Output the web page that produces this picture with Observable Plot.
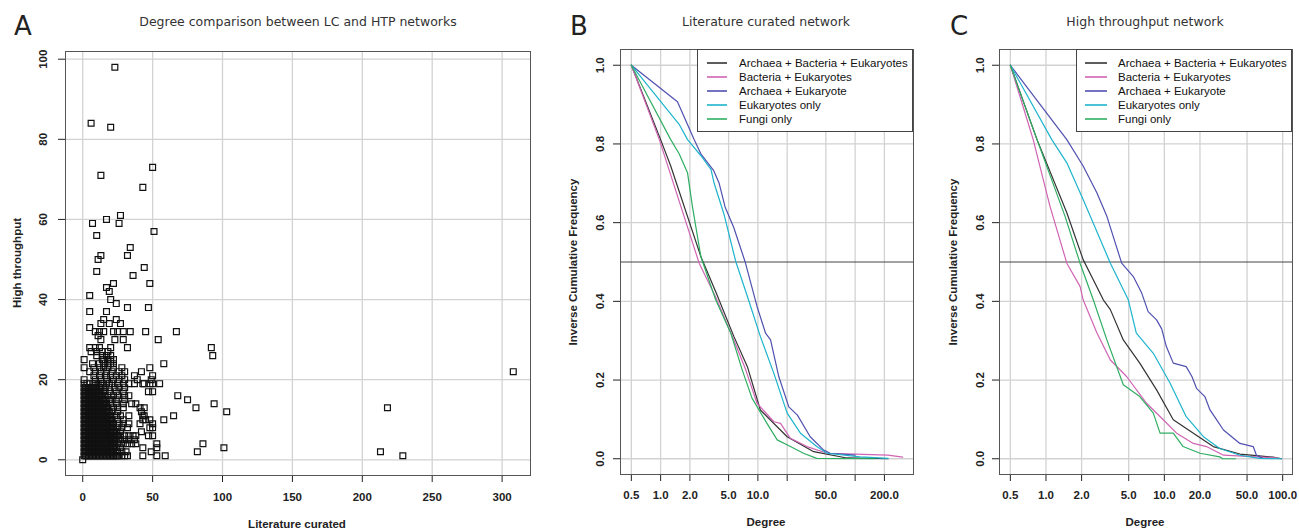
<!DOCTYPE html>
<html><head><meta charset="utf-8">
<script src="https://cdn.jsdelivr.net/npm/d3@7"></script>
<script src="https://cdn.jsdelivr.net/npm/@observablehq/plot@0.6"></script>
<style>
html,body{margin:0;padding:0;background:#fff;}
#fig{position:relative;width:1299px;height:530px;overflow:hidden;font-family:"Liberation Sans",Arial,sans-serif;}
.panel{position:absolute;top:0;}
.t{position:absolute;white-space:nowrap;}
.title{font-family:"DejaVu Sans",sans-serif;font-size:12.5px;color:#333;transform:translateX(-50%);top:14px;}
.letter{font-family:"DejaVu Sans",sans-serif;font-size:26px;color:#222;top:11px;line-height:30px;}
.xlab{font-weight:bold;font-size:11.5px;color:#222;transform:translate(-50%,-50%);}
.ylab{font-weight:bold;font-size:11.5px;color:#222;transform:translate(-50%,-50%) rotate(-90deg);}
.legend{position:absolute;border:1px solid #444;background:#fff;box-sizing:border-box;}
</style>
</head><body><div id="fig"></div>
<script>
// ---------- Panel A data: HTP degree levels and the LC degrees at each level ----------
const htpLevels = [98,84,83,73,71,68,61,60,59,57,56,53,51,50,48,47,46,44,43,42,41,40,39,38,37,35,34,33,32,31,30,28,27,26,25,24,23,22,21,20,19,18,17,16,15,14,13,12,11,10,9,8,7,6,5,4,3,2,1,0];
const lcAtLevel = [
  [23],[6],[20],[50],[13],[43],[27],[17],[7,26],[51],[10],[34],[13,32],[11],[44],[10],[36],[22,48],[17],[19],[5],[20],[24],[32,47],[5,17],[15,24],[13,19,27],[5],
  [9,12,15,22,25,29,34,45,67],
  [11],
  [13,23,29,54],
  [5,9,12,20,32,92],
  [6,10,14,18],
  [10,14,17,20,93],
  [1,14,15,18,20,22],
  [7,12,15,18,20,22,58],
  [1,8,12,15,18,22,28,48],
  [5,9,13,17,21,26,30,42,308],
  [8,12,17,20,24,28,37,50],
  [1,9,13,17,22,26,30,39,49],
  [1,3,5,8,9,11,13,14,17,19,21,25,29,33,37,43,44,48,50,55],
  [1,2,3,4,5,6,7,8,9,10,12,13,16,19,23,26,30],
  [1,2,3,4,5,6,7,8,9,10,11,12,13,15,16,19,24,29,47,50],
  [1,2,3,4,5,6,7,8,9,10,11,12,13,14,16,18,22,25,30,33,68],
  [1,2,3,4,5,6,7,8,9,10,11,12,13,14,15,16,19,21,24,30,75],
  [1,2,3,4,5,6,7,8,9,10,11,12,13,14,15,16,17,20,24,29,35,38,94],
  [1,2,3,4,5,6,7,8,9,10,11,12,13,14,15,16,17,18,22,25,29,41,44,81,218],
  [1,2,3,4,5,6,7,8,9,10,11,12,13,14,15,16,17,18,19,21,25,42,103],
  [1,2,3,4,5,6,7,8,9,10,11,12,13,14,15,16,17,18,19,20,24,27,33,43,44,65],
  [1,2,3,4,5,6,7,8,9,10,11,12,13,14,15,16,17,18,19,20,21,25,29,43,45,48,58],
  [1,2,3,4,5,6,7,8,9,10,11,12,13,14,15,16,17,18,19,20,21,22,26,29,33,41,50],
  [1,2,3,4,5,6,7,8,9,10,11,12,13,14,15,16,17,18,19,20,21,22,25,28,32,48,50],
  [1,2,3,4,5,6,7,8,9,10,11,12,13,14,15,16,17,18,19,20,21,22,24,27,42],
  [1,2,3,4,5,6,7,8,9,10,11,12,13,14,15,16,17,18,19,20,21,22,23,24,25,27,30,33,36,38,47,50],
  [1,2,3,4,5,6,7,8,9,10,11,12,13,14,15,16,17,18,19,20,21,22,23,24,27,30,33,37],
  [1,2,3,4,5,6,7,8,9,10,11,12,13,14,15,16,17,18,19,20,21,22,23,26,29,32,35,38,53,86],
  [1,2,3,4,5,6,7,8,9,10,11,12,13,14,15,16,17,18,19,20,21,22,24,27,43,53,101],
  [1,2,3,4,5,6,7,8,9,10,11,12,13,14,15,16,17,18,19,20,21,22,25,28,31,49,82,213],
  [1,2,3,4,5,6,7,8,9,10,11,12,13,14,15,16,17,18,19,20,21,22,23,24,25,26,28,30,32,43,53,59,229],
  [0]
];
const aXTicks = [0,50,100,150,200,250,300];
const aYTicks = [0,20,40,60,80,100];

// ---------- Panels B & C ----------
const seriesNames = ["Archaea + Bacteria + Eukaryotes","Bacteria + Eukaryotes","Archaea + Eukaryote","Eukaryotes only","Fungi only"];
const seriesColors = ["#333333","#d064b4","#5050b0","#1db4cc","#2fae62"];
const freqTicks = [0,0.2,0.4,0.6,0.8,1.0];
const bXTicks = [0.5,1,2,5,10,20,50,100,200];
const bXLabels = [0.5,1,2,5,10,50,200];
const cXTicks = [0.5,1,2,5,10,20,50,100];
const cXLabels = [0.5,1,2,5,10,20,50,100];

// Literature curated network (B)
const lcABE_deg  = [0.5,1.0,1.27,2.59,3.75,5.66,7.8,10.6,20,37.5,82,218];
const lcABE_freq = [1,0.811,0.744,0.514,0.42,0.311,0.234,0.124,0.056,0.018,0.002,0];
const lcBE_deg   = [0.5,0.97,2.49,3.7,5.66,7.5,9.8,14.6,17.1,21.6,32,51.5,100,218,308];
const lcBE_freq  = [1,0.811,0.497,0.41,0.302,0.226,0.141,0.094,0.09,0.052,0.031,0.014,0.012,0.009,0.004];
const lcAE_deg   = [0.5,1.49,2.21,2.59,3.5,4.0,4.6,5.66,7.36,9.8,12.0,13.5,16.4,20.8,25.5,34.5,47.5,55.5,100];
const lcAE_freq  = [1,0.907,0.811,0.775,0.733,0.7,0.64,0.587,0.502,0.387,0.319,0.302,0.209,0.132,0.111,0.056,0.022,0.014,0.009];
const lcE_deg    = [0.5,1.55,1.89,2.6,3.3,3.55,4.5,5.91,7.79,10.6,14.6,20,27.4,40.3,51.5,112,218];
const lcE_freq   = [1,0.85,0.811,0.77,0.735,0.7,0.62,0.502,0.413,0.311,0.217,0.116,0.065,0.031,0.014,0.005,0.001];
const lcF_deg    = [0.5,1.27,1.55,1.89,2.12,2.59,3.68,5.27,6.9,8.7,12.4,15.8,21.6,29.4,40.3,160];
const lcF_freq   = [1,0.811,0.775,0.727,0.642,0.514,0.404,0.319,0.226,0.154,0.09,0.048,0.031,0.014,0.001,0];

// High throughput network (C)
const htABE_deg  = [0.5,0.84,1.5,2.06,2.51,3.05,3.5,4.5,6.2,8.6,11.9,17.6,25.9,43.5,60,83,98];
const htABE_freq = [1,0.811,0.625,0.506,0.455,0.404,0.379,0.302,0.243,0.175,0.099,0.065,0.031,0.012,0.008,0.004,0];
const htBE_deg   = [0.5,0.78,1.08,1.5,1.94,2.06,2.69,3.5,4.8,7.08,9.8,12.7,17.6,22.7,31.6,60,90];
const htBE_freq  = [1,0.811,0.642,0.497,0.438,0.404,0.32,0.251,0.209,0.141,0.099,0.065,0.039,0.031,0.009,0.005,0.002];
const htAE_deg   = [0.5,1.5,2.06,2.69,3.27,4.36,5.47,6.44,7.3,8.6,9.5,10.4,11.9,15.3,17.1,18.7,22,24.3,27.7,31.6,43.5,56.4,60,68];
const htAE_freq  = [1,0.811,0.744,0.676,0.616,0.497,0.463,0.421,0.374,0.353,0.33,0.285,0.243,0.234,0.209,0.179,0.158,0.124,0.099,0.073,0.039,0.031,0.009,0.001];
const htE_deg    = [0.5,1.12,1.5,2.06,3.5,4.96,5.8,8.07,11.2,15.3,21.4,29.4,43.5,63.8,98];
const htE_freq   = [1,0.811,0.752,0.659,0.497,0.404,0.319,0.268,0.192,0.107,0.056,0.026,0.009,0.001,0];
const htF_deg    = [0.5,0.84,1.45,1.94,2.51,3.27,4.5,6.2,8.07,9.2,11.9,14.4,20,29.4,31,40];
const htF_freq   = [1,0.811,0.616,0.497,0.404,0.302,0.188,0.158,0.116,0.065,0.065,0.031,0.014,0.005,0,0];

// ---------- build tables ----------
const scatter = [];
htpLevels.forEach((h,i) => lcAtLevel[i].forEach(l => scatter.push({lc:l, htp:h})));
function table(pairs){ const out=[]; pairs.forEach(([xs,ys],i)=>xs.forEach((x,j)=>out.push({s:seriesNames[i], x, y:ys[j]}))); return out; }
const bData = table([[lcABE_deg,lcABE_freq],[lcBE_deg,lcBE_freq],[lcAE_deg,lcAE_freq],[lcE_deg,lcE_freq],[lcF_deg,lcF_freq]]);
const cData = table([[htABE_deg,htABE_freq],[htBE_deg,htBE_freq],[htAE_deg,htAE_freq],[htE_deg,htE_freq],[htF_deg,htF_freq]]);

function linExtend([lo,hi]){ const e=(hi-lo)*0.04; return [lo-e,hi+e]; }
function logExtend([lo,hi]){ const a=Math.log10(lo), b=Math.log10(hi), e=(b-a)*0.04; return [10**(a-e),10**(b+e)]; }

const fig = document.getElementById("fig");
const baseStyle = {fontFamily:'"Liberation Sans", Arial, sans-serif', fontSize:"11.5px", fontWeight:"bold", color:"#222", background:"transparent", overflow:"visible"};
const gridStroke = "#d2d2d2";

function place(node, left){ node.classList.add("panel"); node.style.left = left+"px"; fig.appendChild(node); }

// Panel A
const plotA = Plot.plot({
  width: 545, height: 530,
  marginLeft: 65, marginRight: 15, marginTop: 51, marginBottom: 55,
  style: baseStyle,
  x: {domain: linExtend(d3.extent(scatter, d=>d.lc)), ticks: aXTicks, tickSize: 7, tickFormat: () => "", label: null},
  y: {domain: linExtend(d3.extent(scatter, d=>d.htp)), ticks: aYTicks, tickSize: 7, tickFormat: () => "", label: null},
  marks: [
    Plot.ruleX(aXTicks, {stroke: gridStroke, strokeWidth: 1.3}),
    Plot.ruleY(aYTicks, {stroke: gridStroke, strokeWidth: 1.3}),
    Plot.dot(scatter, {x:"lc", y:"htp", symbol:"square", r:3.3, stroke:"#111", strokeWidth:1.2, fill:"none"}),
    Plot.text(aYTicks, {y: d=>d, text: d=>String(d), frameAnchor:"left", dx:-22, rotate:-90, textAnchor:"middle", lineAnchor:"middle"}),
    Plot.text(aXTicks, {x: d=>d, text: d=>String(d), frameAnchor:"bottom", dy:22, lineAnchor:"middle"}),
    Plot.frame({stroke:"#555"})
  ]
});
place(plotA, 0);

function curvePlot(data, domainX, ticks, labels, width, mL, mR, dxY){
  return Plot.plot({
    width, height: 530,
    marginLeft: mL, marginRight: mR, marginTop: 49, marginBottom: 56,
    style: baseStyle,
    x: {type:"log", domain: domainX, ticks, tickSize: 7, tickFormat: () => "", label: null},
    y: {domain: linExtend([0,1]), ticks: freqTicks, tickSize: 7, tickFormat: () => "", label: null},
    color: {domain: seriesNames, range: seriesColors},
    marks: [
      Plot.ruleX(ticks, {stroke: gridStroke, strokeWidth: 1.3}),
      Plot.ruleY(freqTicks, {stroke: gridStroke, strokeWidth: 1.3}),
      Plot.ruleY([0.5], {stroke:"#444", strokeWidth:1}),
      Plot.line(data, {x:"x", y:"y", z:"s", stroke:"s", strokeWidth:1.2}),
      Plot.text(freqTicks, {y: d=>d, text: d=>d.toFixed(1), frameAnchor:"left", dx:dxY, rotate:-90, textAnchor:"middle", lineAnchor:"middle"}),
      Plot.text(labels, {x: d=>d, text: d=>d.toFixed(1), frameAnchor:"bottom", dy:21, lineAnchor:"middle"}),
      Plot.frame({stroke:"#555"})
    ]
  });
}
const plotB = curvePlot(bData, logExtend(d3.extent(bData, d=>d.x)), bXTicks, bXLabels, 380, 75, 12, -20);
place(plotB, 545);
const plotC = curvePlot(cData, logExtend(d3.extent(cData, d=>d.x)), cXTicks, cXLabels, 374, 74, 7, -19);
place(plotC, 925);

// ---------- text overlays ----------
function txt(cls, s, left, top){ const d=document.createElement("div"); d.className="t "+cls; d.textContent=s; d.style.left=left+"px"; d.style.top=top+"px"; fig.appendChild(d); return d; }
txt("letter","A",14,11);
txt("letter","B",570,11);
txt("letter","C",950,11);
txt("title","Degree comparison between LC and HTP networks",298,14);
txt("title","Literature curated network",766,14);
txt("title","High throughput network",1145,14);
txt("xlab","Literature curated",297,524);
txt("xlab","Degree",766,522);
txt("xlab","Degree",1145,522);
txt("ylab","High throughput",17,263);
txt("ylab","Inverse Cumulative Frequency",573,262);
txt("ylab","Inverse Cumulative Frequency",953,262);

const SVGNS = "http://www.w3.org/2000/svg";
function legend(left, lx1, lx2, tx){
  const box = document.createElement("div"); box.className="legend";
  Object.assign(box.style,{left:left+"px", top:"49px", width:"216px", height:"83px"});
  const svg = document.createElementNS(SVGNS, "svg");
  svg.setAttribute("width", "214"); svg.setAttribute("height", "81");
  Object.assign(svg.style,{position:"absolute", left:"0px", top:"0px"});
  seriesNames.forEach((name,i)=>{
    const cy = 13 + 14*i;
    const ln = document.createElementNS(SVGNS, "line");
    ln.setAttribute("x1", lx1); ln.setAttribute("x2", lx2);
    ln.setAttribute("y1", cy); ln.setAttribute("y2", cy);
    ln.setAttribute("stroke", seriesColors[i]); ln.setAttribute("stroke-width", "1.6");
    svg.appendChild(ln);
    const t = document.createElement("div");
    t.textContent = name;
    Object.assign(t.style,{position:"absolute", left:tx+"px", top:(cy-7)+"px", lineHeight:"14px", fontSize:"11.5px", color:"#111", whiteSpace:"nowrap"});
    box.appendChild(t);
  });
  box.appendChild(svg);
  fig.appendChild(box);
}
legend(697, 9, 29, 41);
legend(1076, 8, 30, 41);
</script>
</body></html>
